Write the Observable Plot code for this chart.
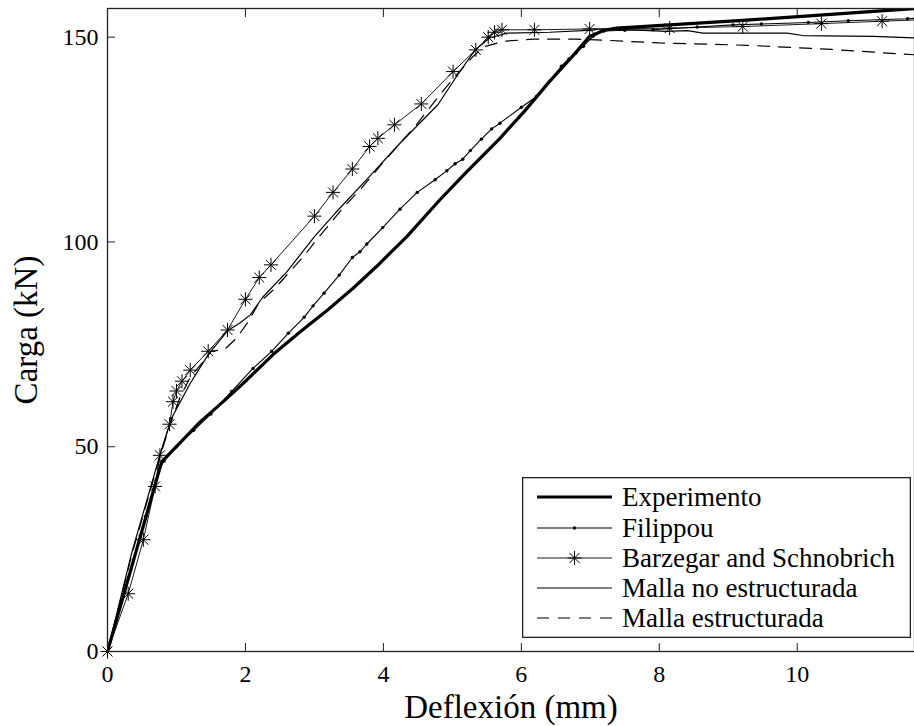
<!DOCTYPE html>
<html><head><meta charset="utf-8">
<script src="https://cdn.jsdelivr.net/npm/d3@7"></script>
<script src="https://cdn.jsdelivr.net/npm/@observablehq/plot@0.6"></script>
<style>
html,body{margin:0;padding:0;background:#fff;}
#wrap{position:relative;width:914px;height:726px;font-family:"Liberation Serif","Times New Roman",serif;color:#000;}
#wrap svg{display:block;}
</style></head><body><div id="wrap"></div>
<script>
// ---- Data ----
const xTicks = [0, 2, 4, 6, 8, 10];
const yTicks = [0, 50, 100, 150];
const seriesNames = ["Experimento", "Filippou", "Barzegar and Schnobrich", "Malla no estructurada", "Malla estructurada"];

const experimentoX = [0, 0.785, 1.34, 1.71, 2.02, 2.4, 2.79, 3.2, 3.56, 3.9, 4.14, 4.34, 4.82, 5.2, 5.69, 6.05, 6.41, 6.75, 6.99, 7.2, 7.38, 9.21, 11.7];
const experimentoY = [0, 46.3, 56, 61.5, 66.3, 72.5, 78, 83.5, 88.7, 94, 98, 101.3, 110.3, 117, 125.3, 132, 139.2, 145.5, 150.2, 151.7, 152.2, 154.1, 157];

const filippouX = [0, 0.3, 0.55, 0.75, 0.82, 1.0, 1.25, 1.5, 1.8, 2.11, 2.38, 2.62, 2.85, 2.98, 3.14, 3.36, 3.55, 3.66, 3.76, 3.99, 4.24, 4.49, 4.75, 4.92, 5.04, 5.15, 5.26, 5.42, 5.57, 5.69, 6.0, 6.22, 6.42, 6.58, 6.69, 6.79, 6.9, 7.04, 7.2, 7.5, 7.91, 8.55, 9.07, 9.48, 10.16, 10.74, 11.6, 11.7];
const filippouY = [0, 18, 33, 44.5, 46.5, 50, 54, 58, 63.5, 69.1, 73.3, 77.7, 81.6, 84.4, 87.5, 91.9, 96.2, 97.6, 99.5, 103.5, 108, 112.1, 115.2, 117.4, 119.1, 120.2, 122.3, 125.1, 127.6, 129, 132.9, 135.5, 139.4, 142.9, 144.7, 146.1, 147.8, 150.2, 151.5, 151.7, 151.8, 152.5, 153, 153.2, 153.6, 154, 154.5, 154.6];

const barzegarX = [0, 0.30, 0.52, 0.69, 0.76, 0.90, 0.95, 1.0, 1.08, 1.2, 1.46, 1.74, 2.0, 2.2, 2.37, 3.0, 3.27, 3.55, 3.80, 3.92, 4.16, 4.55, 5.01, 5.34, 5.52, 5.61, 5.72, 6.19, 6.99, 8.15, 9.21, 10.35, 11.23, 11.7];
const barzegarY = [0, 14.1, 27.3, 40.3, 47.9, 55.5, 61, 63.6, 66, 68.7, 73.3, 78.5, 86, 91.3, 94.4, 106.3, 112.1, 117.8, 123.3, 125.3, 128.6, 133.7, 141.6, 146.9, 150, 151.2, 151.8, 151.8, 152, 152.2, 152.6, 153.3, 153.9, 154.2];

const noEstrX = [0, 0.35, 0.76, 0.93, 1.2, 1.46, 1.74, 1.92, 2.07, 2.25, 2.6, 3.0, 3.3, 3.8, 4.24, 4.79, 5.06, 5.33, 5.54, 5.79, 6.41, 7.04, 7.13, 7.6, 8.1, 8.41, 8.63, 9.85, 10.08, 11.1, 11.7];
const noEstrY = [0, 24, 48, 57, 65.5, 72.5, 78.3, 80.2, 82.2, 86.5, 92.7, 101.3, 107, 116, 124.1, 133.5, 140.4, 146.9, 149.8, 151, 151.2, 151.7, 152, 151.8, 151.4, 151.6, 151, 151, 150.4, 150.2, 149.8];

const estrX = [0, 0.35, 0.76, 0.9, 1.05, 1.2, 1.4, 1.5, 1.7, 1.87, 2.04, 2.19, 2.43, 2.64, 2.84, 3.03, 3.25, 3.45, 3.66, 4.0, 4.46, 4.84, 5.06, 5.30, 5.47, 5.74, 6.17, 6.8, 7.28, 8.0, 9.31, 10.5, 11.7];
const estrY = [0, 23.5, 47.5, 55, 62, 67, 71, 73.3, 73.8, 76.5, 80.5, 85, 88.7, 92.7, 96.4, 100.5, 105, 109, 112.7, 119.5, 128.2, 136.4, 140.8, 145.3, 147.7, 149, 149.5, 149.5, 149.2, 148.6, 148, 147, 145.7];

const zip = (xs, ys) => xs.map((x, i) => ({x, y: ys[i]}));
const experimento = zip(experimentoX, experimentoY);
const filippou = zip(filippouX, filippouY);
const barzegar = zip(barzegarX, barzegarY);
const noEstr = zip(noEstrX, noEstrY);
const estr = zip(estrX, estrY);

const FONT = '"Liberation Serif","Times New Roman",serif';

const chart = Plot.plot({
  width: 914,
  height: 726,
  marginLeft: 107,
  marginRight: 0,
  marginTop: 8,
  marginBottom: 75,
  style: {fontFamily: FONT, color: "#000", background: "#fff", overflow: "visible"},
  x: {domain: [0, 11.7]},
  y: {domain: [0, 157]},
  marks: [
    Plot.line(estr, {x: "x", y: "y", stroke: "#000", strokeWidth: 1.2, strokeDasharray: "12,9", clip: true}),
    Plot.line(noEstr, {x: "x", y: "y", stroke: "#000", strokeWidth: 1.2, clip: true}),
    Plot.line(barzegar, {x: "x", y: "y", stroke: "#000", strokeWidth: 0.9, clip: true}),
    Plot.dot(barzegar.filter(d => d.x < 11.7), {x: "x", y: "y", symbol: "plus", r: 4.6, stroke: "#000", strokeWidth: 1}),
    Plot.dot(barzegar.filter(d => d.x < 11.7), {x: "x", y: "y", symbol: "times", r: 4.6, stroke: "#000", strokeWidth: 1}),
    Plot.line(filippou, {x: "x", y: "y", stroke: "#000", strokeWidth: 1.1, clip: true}),
    Plot.dot(filippou.filter(d => d.x > 0 && d.x < 11.7), {x: "x", y: "y", r: 1.7, fill: "#000", stroke: null}),
    Plot.line(experimento, {x: "x", y: "y", stroke: "#000", strokeWidth: 3.2, clip: true}),
    Plot.frame({stroke: "#222", strokeWidth: 1.3}),
    // inward ticks
    Plot.axisX({anchor: "bottom", ticks: xTicks, tickSize: 8, dy: -8, text: null, label: null, stroke: "#222"}),
    Plot.axisX({anchor: "top", ticks: xTicks, tickSize: 8, dy: 8, text: null, label: null, stroke: "#222"}),
    Plot.axisY({anchor: "left", ticks: yTicks, tickSize: 8, dx: 8, text: null, label: null, stroke: "#222"}),
    // labels
    Plot.axisX({anchor: "bottom", ticks: xTicks, tickSize: 0, tickPadding: 13, fontSize: 24, fill: "#000",
      label: "Deflexión (mm)", labelAnchor: "center", labelOffset: 66, labelArrow: "none"}),
    Plot.axisY({anchor: "left", ticks: yTicks, tickSize: 0, tickPadding: 9, fontSize: 24, fill: "#000",
      label: "Carga (kN)", labelAnchor: "center", labelOffset: 94, labelArrow: "none"})
  ]
});

// enlarge axis label fonts
d3.select(chart).selectAll("g[aria-label='x-axis label'] text, g[aria-label='y-axis label'] text")
  .attr("font-size", 33);

const wrap = document.getElementById("wrap");
wrap.appendChild(chart);

// ---- Legend (overlay inside the plot area, bottom right) ----
const legend = d3.create("svg")
  .attr("width", 389).attr("height", 161)
  .style("position", "absolute").style("left", "522px").style("top", "477px");
legend.append("rect").attr("x", 0.65).attr("y", 0.65).attr("width", 387.7).attr("height", 159.7)
  .attr("fill", "#fff").attr("stroke", "#222").attr("stroke-width", 1.3);
const rowY = [20, 51, 81, 111, 141];
const styles = [
  {w: 3.2, dash: null, marker: null},
  {w: 1.1, dash: null, marker: "dot"},
  {w: 0.9, dash: null, marker: "star"},
  {w: 1.2, dash: null, marker: null},
  {w: 1.2, dash: "12,9", marker: null}
];
seriesNames.forEach((name, i) => {
  const g = legend.append("g").attr("transform", `translate(0,${rowY[i]})`);
  const s = styles[i];
  g.append("line").attr("x1", 15).attr("x2", 90).attr("y1", 0).attr("y2", 0)
    .attr("stroke", "#000").attr("stroke-width", s.w).attr("stroke-dasharray", s.dash);
  if (s.marker === "dot") g.append("circle").attr("cx", 52.5).attr("cy", 0).attr("r", 1.7).attr("fill", "#000");
  if (s.marker === "star") g.append("path").attr("d", "M45.5,0H59.5M52.5,-7V7M47.5,-5L57.5,5M47.5,5L57.5,-5")
    .attr("stroke", "#000").attr("stroke-width", 1).attr("fill", "none");
  g.append("text").attr("x", 100).attr("y", 0).attr("dy", "0.33em")
    .attr("font-family", FONT).attr("font-size", 27).attr("fill", "#000").text(name);
});
wrap.appendChild(legend.node());
</script>
</body></html>
